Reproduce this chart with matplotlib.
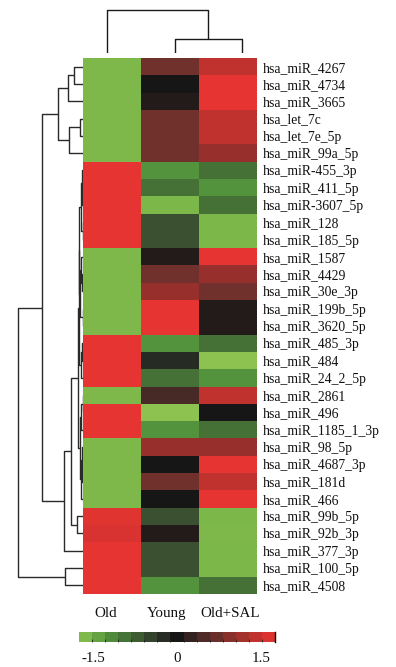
import numpy as np
import matplotlib
matplotlib.use('Agg')
import matplotlib.pyplot as plt
from matplotlib.colors import LinearSegmentedColormap, Normalize

plt.rcParams['font.family'] = ['Liberation Serif', 'DejaVu Serif']

# row labels, top to bottom
mirnas = ['hsa_miR_4267', 'hsa_miR_4734', 'hsa_miR_3665', 'hsa_let_7c', 'hsa_let_7e_5p',
          'hsa_miR_99a_5p', 'hsa_miR-455_3p', 'hsa_miR_411_5p', 'hsa_miR-3607_5p', 'hsa_miR_128',
          'hsa_miR_185_5p', 'hsa_miR_1587', 'hsa_miR_4429', 'hsa_miR_30e_3p', 'hsa_miR_199b_5p',
          'hsa_miR_3620_5p', 'hsa_miR_485_3p', 'hsa_miR_484', 'hsa_miR_24_2_5p', 'hsa_miR_2861',
          'hsa_miR_496', 'hsa_miR_1185_1_3p', 'hsa_miR_98_5p', 'hsa_miR_4687_3p', 'hsa_miR_181d',
          'hsa_miR_466', 'hsa_miR_99b_5p', 'hsa_miR_92b_3p', 'hsa_miR_377_3p', 'hsa_miR_100_5p',
          'hsa_miR_4508']
samples = ['Old', 'Young', 'Old+SAL']

# z-scores
old = [-1.62, -1.62, -1.62, -1.62, -1.62, -1.62, 1.71, 1.71, 1.71, 1.71,
       1.71, -1.62, -1.62, -1.62, -1.62, -1.62, 1.71, 1.71, 1.71, -1.62,
       1.71, 1.71, -1.62, -1.62, -1.62, -1.62, 1.68, 1.6, 1.71, 1.71,
       1.71]
young = [0.75, 0.0, 0.1, 0.75, 0.75, 0.75, -1.25, -0.91, -1.6, -0.59,
         -0.59, 0.1, 0.75, 1.07, 1.71, 1.71, -1.25, -0.23, -0.91, 0.4,
         -1.72, -1.25, 1.07, 0.0, 0.75, 0.0, -0.59, 0.1, -0.59, -0.59,
         -1.25]
old_sal = [1.4, 1.71, 1.71, 1.4, 1.4, 1.07, -0.91, -1.25, -0.91, -1.6,
           -1.6, 1.71, 1.07, 0.75, 0.1, 0.1, -0.91, -1.72, -1.25, 1.4,
           0.0, -0.91, 1.07, 1.71, 1.4, 1.71, -1.6, -1.62, -1.6, -1.6,
           -0.91]

# dendrograms: (left, right, height), leaves are row / column indices
col_tree = (0, (1, 2, 14), 43)
grp_a = (((0, 1, 9), 2, 15), ((3, 4, 3), 5, 14), 25)
grp_p = (((6, (7, 8, 1.0), 1.8), (9, 10, 0.6), 2.6),
         ((11, (12, 13, 1.2), 2.0), (14, 15, 0.5), 3.0), 4.0)
grp_g = ((grp_p, ((16, 17, 1.0), 18, 2.4), 4.6),
         (((19, 20, 0.8), 21, 2.5), ((22, (23, 24, 1.0), 1.6), 25, 2.8), 3.8), 5.5)
row_tree = ((grp_a, (((grp_g, (26, 27, 6), 12), 28, 19)), 41), (29, 30, 18), 65)

cb_ticks = [-1.5, 0, 1.5]

W, H = 396, 667
fig = plt.figure(figsize=(W / 100, H / 100), dpi=100)


def px(l, t, w, h):
    return [l / W, 1 - (t + h) / H, w / W, h / H]


anchors = [(-1.75, (145, 195, 82)), (-1.6, (122, 182, 72)), (-1.25, (83, 146, 62)),
           (-0.9, (68, 112, 55)), (-0.6, (58, 80, 48)), (-0.25, (40, 45, 38)),
           (0.0, (22, 22, 22)), (0.4, (70, 42, 38)), (0.75, (112, 48, 44)),
           (1.07, (150, 48, 44)), (1.4, (190, 50, 45)), (1.75, (232, 52, 50))]
cmap = LinearSegmentedColormap.from_list(
    'gkr', [((v + 1.75) / 3.5, tuple(c / 255 for c in rgb)) for v, rgb in anchors])
norm = Normalize(-1.75, 1.75)

data = np.column_stack([old, young, old_sal])
n_rows = len(mirnas)

# heatmap
ax = fig.add_axes(px(83.3, 58, 173.4, 536))
ax.pcolormesh(np.arange(4), np.arange(n_rows + 1), data, cmap=cmap, norm=norm)
ax.set_xlim(0, 3)
ax.set_ylim(n_rows, 0)
ax.set_xticks([])
ax.yaxis.tick_right()
ax.set_yticks(np.arange(n_rows) + 0.5)
ax.set_yticklabels(mirnas, fontsize=9.8, color='#111111')
ax.tick_params(axis='y', length=0, pad=4.5)
for s in ax.spines.values():
    s.set_visible(False)


def draw_tree(a, node, horizontal):
    if isinstance(node, int):
        return node + 0.5, 0.0
    left, right, h = node
    p1, h1 = draw_tree(a, left, horizontal)
    p2, h2 = draw_tree(a, right, horizontal)
    if horizontal:
        a.plot([h1, h, h, h2], [p1, p1, p2, p2], color='#2a2a2a', lw=1.0,
               solid_capstyle='butt')
    else:
        a.plot([p1, p1, p2, p2], [h1, h, h, h2], color='#1a1a1a', lw=1.0,
               solid_capstyle='butt')
    return (p1 + p2) / 2, h


# row dendrogram
axl = fig.add_axes(px(0, 58, 83.3, 536))
draw_tree(axl, row_tree, True)
axl.set_xlim(83.3, 0)
axl.set_ylim(n_rows, 0)
axl.axis('off')

# column dendrogram
axt = fig.add_axes(px(73.25, 5, 202.5, 48))
draw_tree(axt, col_tree, False)
axt.set_xlim(0, 3)
axt.set_ylim(0, 48)
axt.axis('off')

# column labels
for name, x in zip(samples, [105.5, 167, 230]):
    fig.text(x / W, 1 - 617 / H, name, ha='center', va='baseline', fontsize=10.8,
             color='#111111')

# colour key
axc = fig.add_axes(px(79, 632, 196, 10))
edges = np.linspace(-1.75, 1.75, 16)
mids = (edges[:-1] + edges[1:]) / 2
axc.pcolormesh(edges, [0, 1], mids[np.newaxis, :], cmap=cmap, norm=norm)
axc.set_xlim(-1.75, 1.75)
axc.set_ylim(0, 1)
axc.set_yticks([])
axc.set_xticks(cb_ticks)
axc.set_xticklabels(['-1.5', '0', '1.5'], fontsize=10.8, color='#111111')
axc.set_xticks(edges[1:-1], minor=True)
axc.tick_params(axis='x', which='major', length=0, pad=7)
axc.tick_params(axis='x', which='minor', length=2, width=0.6, direction='in',
                color='#222222')
for s in ['top', 'left', 'bottom']:
    axc.spines[s].set_visible(False)
axc.spines['right'].set_linewidth(1.0)

fig.savefig('out.png', dpi=100, facecolor='white')
